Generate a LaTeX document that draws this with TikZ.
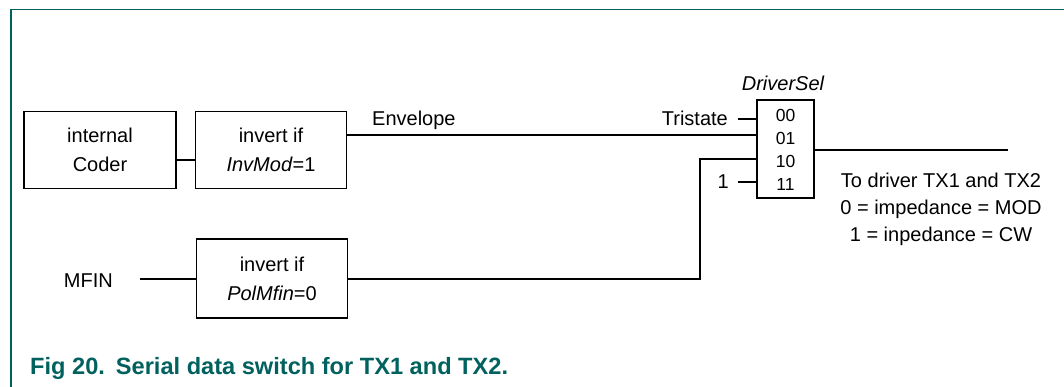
\documentclass[tikz,border=0pt]{standalone}
\usepackage{fontspec}
\setmainfont{Liberation Sans}
\definecolor{teal}{HTML}{00615E}
\begin{document}
\begin{tikzpicture}[x=1pt,y=-1pt,
  blk/.style={draw,line width=1.6pt,inner sep=0pt,align=center,font=\fontsize{20}{29}\selectfont},
  wire/.style={line width=1.5pt},
  lbl/.style={font=\fontsize{20}{24}\selectfont,inner sep=0pt},
  small/.style={font=\fontsize{17.5}{20}\selectfont,inner sep=0pt}]
\useasboundingbox (0,0) rectangle (1064,387);
\draw[teal,line width=1.3pt] (11,387) -- (11,9.5) -- (1064,9.5);
% blocks
\node[blk,minimum width=152pt,minimum height=77pt] (coder) at (100,150) {internal\\Coder};
\node[blk,minimum width=151pt,minimum height=77pt] (inv) at (271,150) {invert if\\\textit{InvMod}=1};
\node[blk,minimum width=151pt,minimum height=79pt] (pol) at (272,278.5) {invert if\\\textit{PolMfin}=0};
\node[draw,line width=1.6pt,minimum width=57pt,minimum height=98pt,inner sep=0pt] (mux) at (785.5,149) {};
\node[small] at (785.5,115) {00};
\node[small] at (785.5,138) {01};
\node[small] at (785.5,161) {10};
\node[small] at (785.5,184) {11};
\node[lbl,font=\fontsize{20}{24}\selectfont\itshape] (ds) at (783,83) {DriverSel};
% coordinates
\coordinate (m01) at (mux.west |- 0,135);
\coordinate (m00) at (mux.west |- 0,119);
\coordinate (m10) at (mux.west |- 0,159);
\coordinate (m11) at (mux.west |- 0,182);
\coordinate (out) at (1008,150);
\coordinate (corner) at (700,279);
% wires
\draw[wire] (coder.east |- 0,160) -- (inv.west |- 0,160);
\draw[wire] (inv.east |- 0,135) -- (m01);
\node[lbl,anchor=base west] (env) at (372,126) {Envelope};
\node[lbl,anchor=base east] (tri) at (728,126) {Tristate};
\draw[wire] (738,119) -- (m00);
\node[lbl,anchor=base east] (one) at (729,189) {1};
\draw[wire] (738,182) -- (m11);
\node[lbl,anchor=base east] (mfin) at (113,287) {MFIN};
\draw[wire] (140,279) -- (pol.west |- 0,279);
\draw[wire] (pol.east |- 0,279) -- (corner) -- (corner |- m10) -- (m10);
\draw[wire] (mux.east |- out) -- (out);
\node[lbl,align=center,font=\fontsize{20}{27}\selectfont] (txt) at (941,209) {To driver TX1 and TX2\\0 = impedance = MOD\\1 = inpedance = CW};
\node[anchor=base west,inner sep=0pt,text=teal,font=\fontsize{23.6}{26}\selectfont\bfseries] (cap) at (30,374) {Fig 20.\hspace{11pt}Serial data switch for TX1 and TX2.};
\end{tikzpicture}
\end{document}
